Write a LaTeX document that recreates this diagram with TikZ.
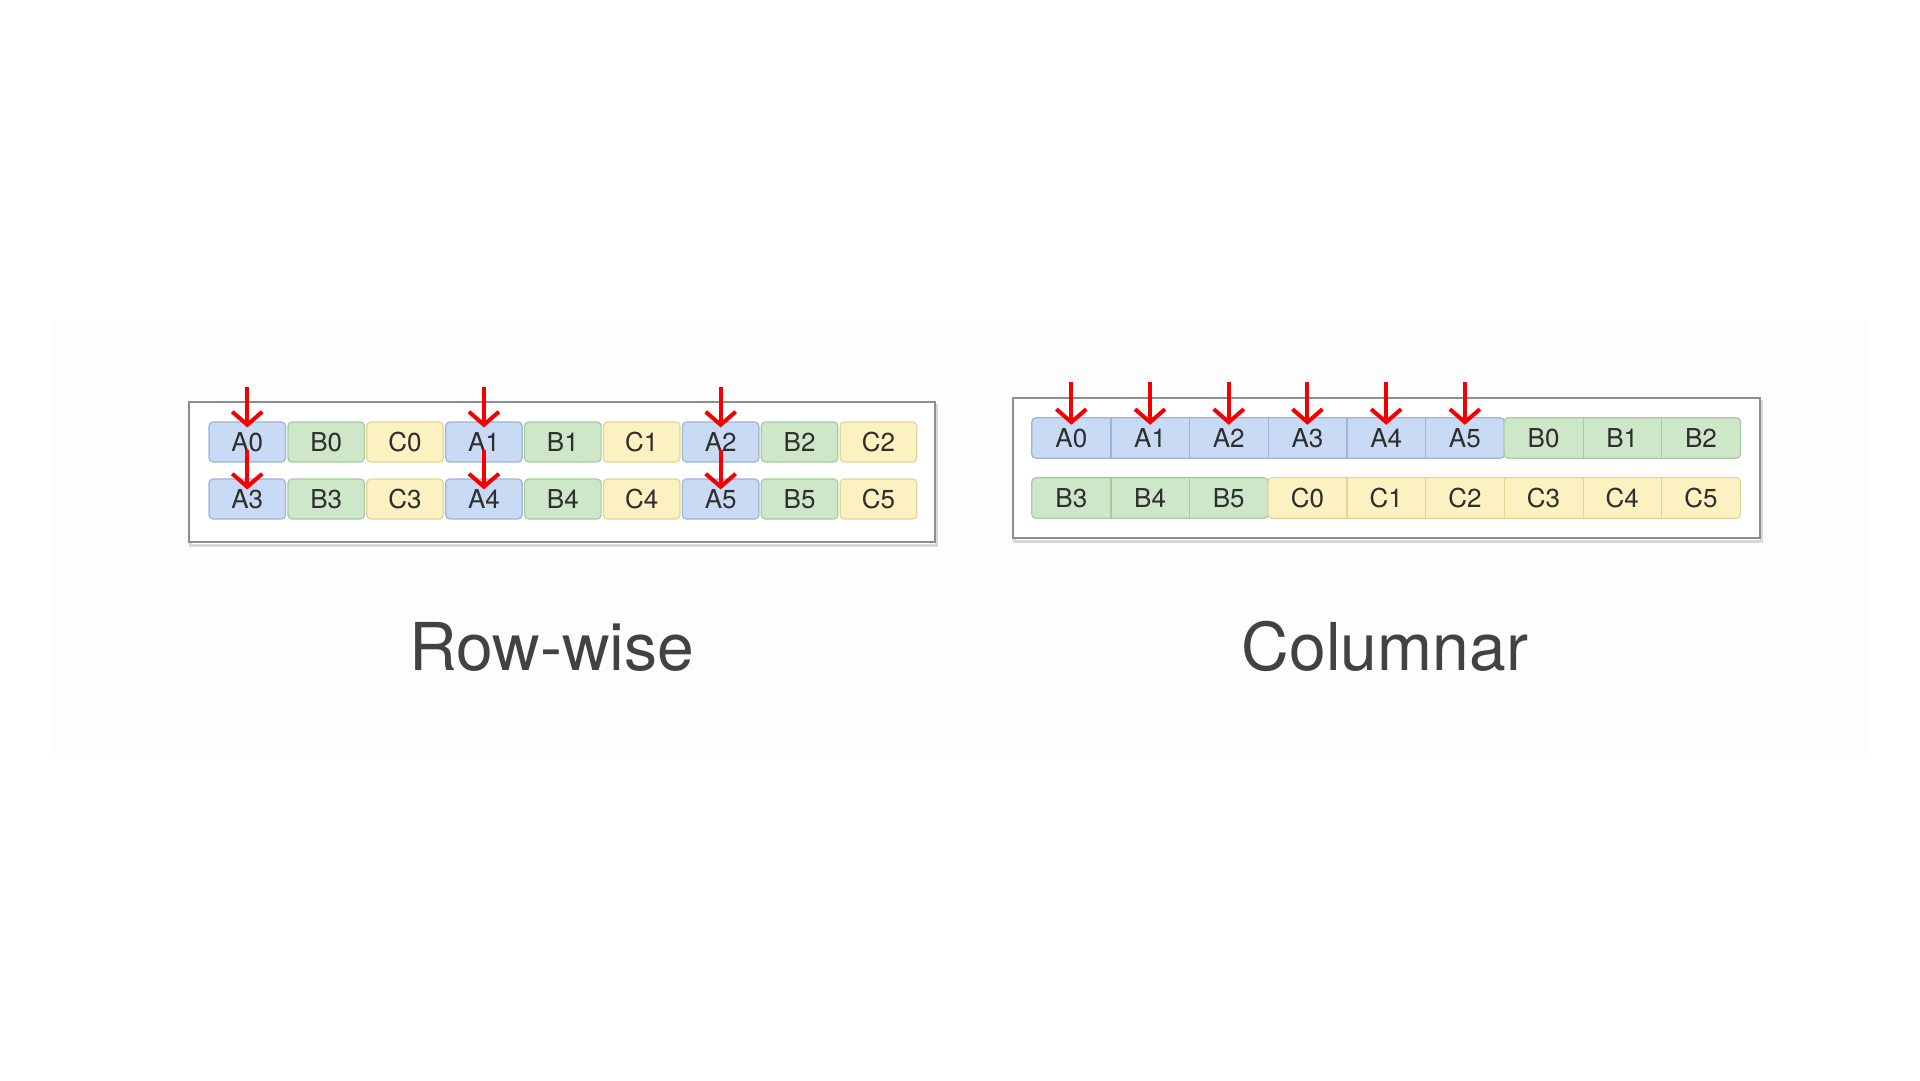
\documentclass[tikz,border=0pt]{standalone}
\usepackage{fontspec}
\setmainfont{TeX Gyre Heros}
\usetikzlibrary{arrows.meta,fit,backgrounds}
\definecolor{cblue}{HTML}{C8DAF4}
\definecolor{cblueD}{HTML}{9DB4D6}
\definecolor{cgreen}{HTML}{CFE7C9}
\definecolor{cgreenD}{HTML}{A6CBA0}
\definecolor{cyellow}{HTML}{FCF1C0}
\definecolor{cyellowD}{HTML}{E3D597}
\definecolor{frameC}{HTML}{8E8E8E}
\definecolor{shadowC}{HTML}{D8D8D8}
\definecolor{panelC}{HTML}{FCFDFC}
\definecolor{titleC}{HTML}{424242}
\definecolor{labelC}{HTML}{2E2E2E}
\definecolor{arrC}{HTML}{F50000}
\begin{document}
\begin{tikzpicture}[x=1pt,y=-1pt,
  cellbase/.style={minimum height=40pt,inner sep=0pt,font=\fontsize{26}{26}\selectfont,text=labelC},
  cellbox/.style={cellbase,minimum width=76.5pt,rounded corners=4pt,line width=1.2pt},
  bcell/.style={cellbox,fill=cblue,draw=cblueD},
  gcell/.style={cellbox,fill=cgreen,draw=cgreenD},
  ycell/.style={cellbox,fill=cyellow,draw=cyellowD},
  jcell/.style={cellbase,minimum width=78.7pt},
  grp/.style={inner sep=0pt,rounded corners=4pt,line width=1.2pt},
  framebox/.style={draw=frameC,line width=2.5pt,fill=white},
  shadowbox/.style={draw=shadowC,line width=3pt},
  redarr/.style={draw=arrC,line width=4pt,-{Straight Barb[length=13pt,width=30pt]}},
  title/.style={anchor=base,text=titleC,font=\fontsize{66}{66}\selectfont}
]
\useasboundingbox (0,0) rectangle (1920,1080);

% ---------- Row-wise cells ----------
\foreach \lab/\sty [count=\i from 0] in {A0/bcell,B0/gcell,C0/ycell,A1/bcell,B1/gcell,C1/ycell,A2/bcell,B2/gcell,C2/ycell}
  \node[\sty] (l1c\i) at ({247.25+78.9*\i},442) {\lab};
\foreach \lab/\sty [count=\i from 0] in {A3/bcell,B3/gcell,C3/ycell,A4/bcell,B4/gcell,C4/ycell,A5/bcell,B5/gcell,C5/ycell}
  \node[\sty] (l2c\i) at ({247.25+78.9*\i},499) {\lab};

% ---------- Columnar cells ----------
\foreach \lab [count=\i from 0] in {A0,A1,A2,A3,A4,A5,B0,B1,B2}
  \node[jcell] (r1c\i) at ({1071.35+78.7*\i},438) {\lab};
\foreach \lab [count=\i from 0] in {B3,B4,B5,C0,C1,C2,C3,C4,C5}
  \node[jcell] (r2c\i) at ({1071.35+78.7*\i},498) {\lab};

\begin{scope}[on background layer]
  \fill[white] (0,0) rectangle (1920,1080);
  \fill[panelC] (53,320) rectangle (1867,757);
  \draw[shadowbox] (190,405) rectangle (936,545);
  \draw[framebox] (189,402) rectangle (935,542);
  \draw[shadowbox] (1014,401) rectangle (1761,541);
  \draw[framebox] (1013,398) rectangle (1760,538);
  \node[grp,fit=(r1c0)(r1c5),fill=cblue,draw=cblueD] (gA) {};
  \node[grp,fit=(r1c6)(r1c8),fill=cgreen,draw=cgreenD] (gB1) {};
  \node[grp,fit=(r2c0)(r2c2),fill=cgreen,draw=cgreenD] (gB2) {};
  \node[grp,fit=(r2c3)(r2c8),fill=cyellow,draw=cyellowD] (gC) {};
\end{scope}

% dividers
\foreach \i in {0,...,4} \draw[cblueD,line width=1.2pt] (r1c\i.north east) -- (r1c\i.south east);
\foreach \i in {6,7} \draw[cgreenD,line width=1.2pt] (r1c\i.north east) -- (r1c\i.south east);
\foreach \i in {0,1} \draw[cgreenD,line width=1.2pt] (r2c\i.north east) -- (r2c\i.south east);
\foreach \i in {3,...,7} \draw[cyellowD,line width=1.2pt] (r2c\i.north east) -- (r2c\i.south east);

% ---------- arrows: Row-wise ----------
\foreach \i in {0,3,6} {
  \coordinate (lt\i) at ({247.25+78.9*\i},387);
  \coordinate (lm\i) at ({247.25+78.9*\i},450);
  \draw[redarr] (lt\i) -- ([yshift=-6pt]l1c\i.north);
  \draw[redarr] (lm\i) -- ([yshift=-11pt]l2c\i.north);
}
% ---------- arrows: Columnar ----------
\foreach \i in {0,...,5} {
  \coordinate (rt\i) at ({1071.35+78.7*\i},382);
  \draw[redarr] (rt\i) -- ([yshift=-7pt]r1c\i.north);
}

% titles
\node[title] (trow) at (552,670) {Row-wise};
\node[title] (tcol) at (1385,670) {Columnar};
\end{tikzpicture}
\end{document}
